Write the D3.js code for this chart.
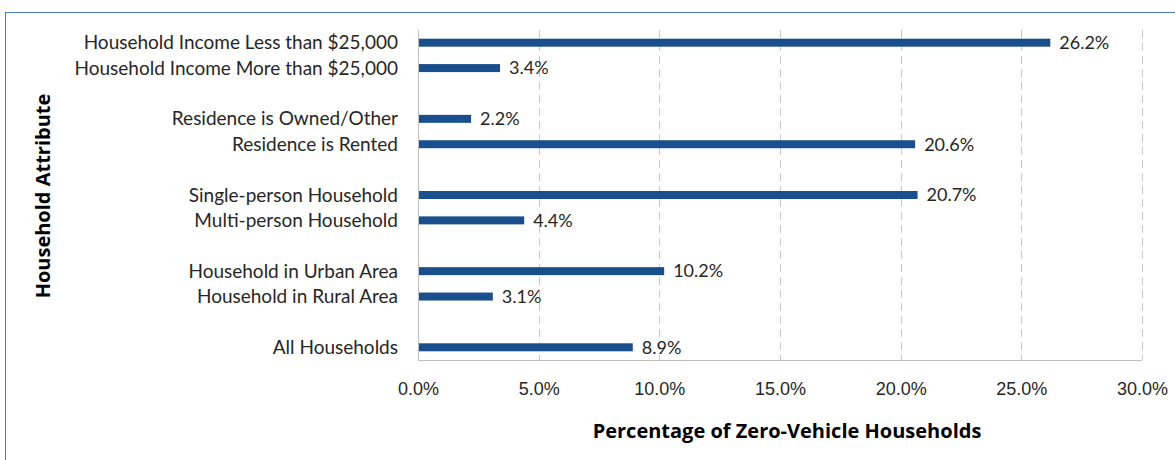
<!DOCTYPE html>
<meta charset="utf-8">
<style>
body { margin: 0; background: #fff; }
svg { display: block; font-family: Lato, "Open Sans", sans-serif; }
.grid line { stroke: #c8c8c8; stroke-dasharray: 8,5; }
.cat { fill: #262626; font-size: 19px; }
.val { fill: #262626; font-size: 18px; }
.tick text { fill: #262626; font-size: 18px; }
.title { fill: #000; font-family: "Open Sans", sans-serif; font-size: 20px; font-weight: bold; }
</style>
<svg width="1175" height="460"></svg>
<script src="https://d3js.org/d3.v7.min.js"></script>
<script>
let svg = d3.select("svg");

let categories = [
  "Household Income Less than $25,000",
  "Household Income More than $25,000",
  "Residence is Owned/Other",
  "Residence is Rented",
  "Single-person Household",
  "Multi-person Household",
  "Household in Urban Area",
  "Household in Rural Area",
  "All Households"
];
let values = [26.2, 3.4, 2.2, 20.6, 20.7, 4.4, 10.2, 3.1, 8.9];
// group each bar belongs to (an empty slot is left between groups)
let groups = [0, 0, 1, 1, 2, 2, 3, 3, 4];
let xTicks = [0, 5, 10, 15, 20, 25, 30];

let plotL = 418, plotR = 1142, plotT = 30, plotB = 360;

let rows = categories.map(function(c, i) {
  return {name: c, value: values[i], slot: i + groups[i]};
});
let nSlots = categories.length + groups[groups.length - 1];

let x = d3.scaleLinear().domain([0, 30]).range([plotL, plotR]);
let y = d3.scaleBand().domain(d3.range(nSlots)).range([plotT, plotB]).paddingInner(0.7).paddingOuter(0.35);

// frame
svg.append("rect")
  .attr("x", 5.5).attr("y", 12.5)
  .attr("width", 1200).attr("height", 500)
  .attr("fill", "none").attr("stroke", "#4f7bc0").attr("stroke-width", 1);

// gridlines
svg.append("g").attr("class", "grid")
  .selectAll("line")
  .data(xTicks.slice(1))
  .enter().append("line")
  .attr("x1", d => Math.round(x(d)) + 0.5).attr("x2", d => Math.round(x(d)) + 0.5)
  .attr("y1", plotT).attr("y2", plotB);

// axis lines
svg.append("line").attr("x1", plotL + 0.5).attr("x2", plotL + 0.5)
  .attr("y1", plotT).attr("y2", plotB).attr("stroke", "#bfbfbf");
svg.append("line").attr("x1", plotL).attr("x2", plotR)
  .attr("y1", plotB + 0.5).attr("y2", plotB + 0.5).attr("stroke", "#bfbfbf");

// x tick labels
let xAxis = d3.axisBottom(x).tickValues(xTicks)
  .tickFormat(d => d.toFixed(1) + "%").tickSize(0).tickPadding(20);
svg.append("g").attr("transform", "translate(0," + plotB + ")").call(xAxis)
  .call(g => g.select(".domain").remove())
  .call(g => g.selectAll(".tick text").attr("y", 35).attr("dy", null));

// bars
let bh = 8;
svg.append("g").selectAll("rect")
  .data(rows).enter().append("rect")
  .attr("x", plotL + 1)
  .attr("y", d => y(d.slot) + y.bandwidth() / 2 - bh / 2)
  .attr("width", d => x(d.value) - plotL - 1)
  .attr("height", bh)
  .attr("fill", "#1a4f8e");

// value labels
svg.append("g").selectAll("text")
  .data(rows).enter().append("text")
  .attr("class", "val")
  .attr("x", d => x(d.value) + 9)
  .attr("y", d => y(d.slot) + y.bandwidth() / 2)
  .attr("dy", "0.35em")
  .text(d => d.value.toFixed(1) + "%");

// category labels
svg.append("g").selectAll("text")
  .data(rows).enter().append("text")
  .attr("class", "cat")
  .attr("x", plotL - 20)
  .attr("y", d => y(d.slot) + y.bandwidth() / 2)
  .attr("dy", "0.35em")
  .attr("text-anchor", "end")
  .text(d => d.name);

// titles
svg.append("text").attr("class", "title")
  .attr("x", 787).attr("y", 438).attr("text-anchor", "middle")
  .text("Percentage of Zero-Vehicle Households");
svg.append("text").attr("class", "title")
  .attr("transform", "translate(50,196) rotate(-90)").attr("text-anchor", "middle")
  .text("Household Attribute");
</script>
